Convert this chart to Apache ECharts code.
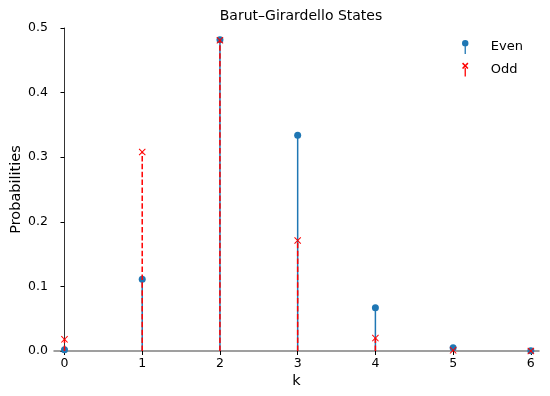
<!DOCTYPE html>
<html>

<head>
    <meta charset="utf-8">
    <title>Barut-Girardello States</title>
    <script src="https://cdnjs.cloudflare.com/ajax/libs/echarts/6.0.0/echarts.min.js"></script>
</head>

<body style="margin:0">
    <div id="main" style="width: 550px;height:396px;"></div>
    <script type="text/javascript">
    // data
    var ks = [0, 1, 2, 3, 4, 5, 6];
    var evenProb = [0.002, 0.111, 0.482, 0.334, 0.067, 0.005, 0.0003];
    var oddProb = [0.018, 0.308, 0.481, 0.171, 0.020, 0.001, 0.0001];

    var blue = '#1f77b4';
    var red = '#ff0000';
    var font = 'DejaVu Sans';

    var crossPath = 'path://M0,1L1,0L5,4L9,0L10,1L6,5L10,9L9,10L5,6L1,10L0,9L4,5Z';

    function pairs(vals) {
        return ks.map(function (k, i) { return [k, vals[i]]; });
    }

    // vertical stem from 0 to the value
    function stem(color, dash) {
        return function (params, api) {
            var p0 = api.coord([api.value(0), 0]);
            var p1 = api.coord([api.value(0), api.value(1)]);
            return {
                type: 'line',
                shape: { x1: p0[0], y1: p0[1], x2: p1[0], y2: p1[1] },
                style: { stroke: color, lineWidth: 1.5, lineDash: dash }
            };
        };
    }

    var myChart = echarts.init(document.getElementById('main'));

    var option = {
        animation: false,
        title: {
            text: 'Barut–Girardello States',
            left: 296,
            textAlign: 'center',
            top: 4,
            textStyle: { fontFamily: font, fontSize: 14, fontWeight: 'normal', color: '#000' }
        },
        legend: {
            orient: 'vertical',
            left: 457,
            top: 35,
            itemGap: 8.6,
            itemWidth: 9,
            itemHeight: 14,
            textStyle: { fontFamily: font, fontSize: 13, color: '#000', padding: [0, 0, 0, 16] },
            data: [
                { name: 'Even', icon: 'path://M2,3A3,3,0,1,1,8,3A3,3,0,1,1,2,3ZM4.4,6h1.2v7h-1.2Z', itemStyle: { color: blue } },
                { name: 'Odd', icon: 'path://M2,1L3,0L5,2L7,0L8,1L6,3L8,5L7,6L5,4L3,6L2,5L4,3ZM4.4,5h1.2v8h-1.2Z', itemStyle: { color: red } }
            ]
        },
        grid: { left: 54, right: 11, top: 28, bottom: 45, outerBoundsMode: 'none' },
        xAxis: {
            type: 'value',
            min: -0.135,
            max: 6.105,
            interval: 1,
            name: 'k',
            nameLocation: 'middle',
            nameGap: 23,
            nameMoveOverlap: false,
            nameTextStyle: { fontFamily: font, fontSize: 14.5, color: '#000' },
            axisLine: { show: true, onZero: true, lineStyle: { color: '#808080', width: 1.5 } },
            axisTick: { show: true, length: 4, lineStyle: { color: '#000' }, customValues: ks },
            axisLabel: {
                fontFamily: font, fontSize: 12.5, color: '#000', margin: 6,
                customValues: ks
            },
            splitLine: { show: false }
        },
        yAxis: {
            type: 'value',
            min: 0,
            max: 0.5,
            interval: 0.1,
            name: 'Probabilities',
            nameLocation: 'middle',
            nameGap: 30,
            nameMoveOverlap: false,
            nameTextStyle: { fontFamily: font, fontSize: 14.5, color: '#000' },
            axisLine: { show: true, lineStyle: { color: '#000', width: 0.8 } },
            axisTick: { show: true, length: 4, lineStyle: { color: '#000' } },
            axisLabel: {
                fontFamily: font, fontSize: 12.5, color: '#000', margin: 6,
                formatter: function (v) { return v.toFixed(1); }
            },
            splitLine: { show: false }
        },
        series: [
            {
                name: 'EvenStem',
                type: 'custom',
                renderItem: stem(blue, null),
                data: pairs(evenProb),
                z: 1
            },
            {
                name: 'Even',
                type: 'scatter',
                symbol: 'circle',
                symbolSize: 7,
                itemStyle: { color: blue, opacity: 1 },
                data: pairs(evenProb),
                z: 2
            },
            {
                name: 'OddStem',
                type: 'custom',
                renderItem: stem(red, [5.5, 2.4]),
                data: pairs(oddProb),
                z: 3
            },
            {
                name: 'Odd',
                type: 'scatter',
                symbol: crossPath,
                symbolSize: 7,
                itemStyle: { color: red, opacity: 1 },
                data: pairs(oddProb),
                z: 4
            }
        ]
    };

    myChart.setOption(option);
    </script>
</body>

</html>
